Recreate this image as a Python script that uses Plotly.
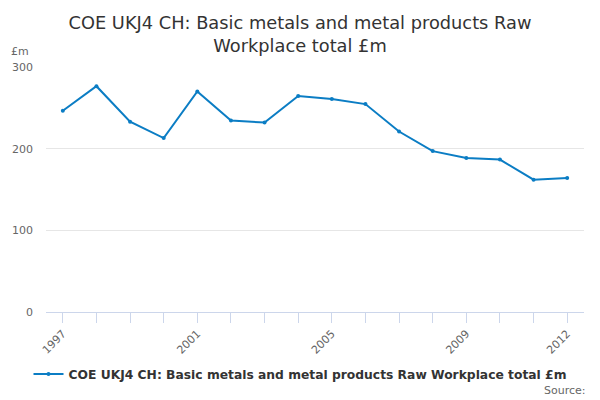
import plotly.graph_objects as go

# values
years = [str(y) for y in range(1997, 2013)]
values = [246.5, 276.5, 233, 213, 270, 234.5, 232, 264.5,
          260.7, 254.6, 221, 197, 188.6, 186.6, 162, 164]
shown_labels = ["1997", "2001", "2005", "2009", "2012"]
series_name = "COE UKJ4 CH: Basic metals and metal products Raw Workplace total £m"

tick_text = [y if y in shown_labels else "" for y in years]

fig = go.Figure()
fig.add_trace(go.Scatter(
    x=years,
    y=values,
    mode="lines+markers",
    name=series_name,
    line=dict(color="#0b7dc4", width=2),
    marker=dict(size=4, color="#0b7dc4"),
))

fig.update_layout(
    width=600,
    height=400,
    margin=dict(l=46, r=16, t=67, b=88),
    paper_bgcolor="white",
    plot_bgcolor="white",
    font=dict(family="DejaVu Sans", color="#333333"),
    title=dict(
        text="COE UKJ4 CH: Basic metals and metal products Raw<br>Workplace total £m",
        x=0.5, xanchor="center",
        y=1 - 29 / 400, yanchor="middle", yref="container",
        font=dict(size=17.8, color="#333333"),
    ),
    showlegend=True,
    legend=dict(
        orientation="h",
        x=0.5, xanchor="center", xref="container",
        y=1 - 374 / 400, yanchor="middle", yref="container",
        itemwidth=30,
        font=dict(size=12.3, color="#333333", weight="bold"),
    ),
    xaxis=dict(
        type="category",
        tickvals=years,
        ticktext=tick_text,
        tickangle=-45,
        ticks="outside",
        ticklen=10,
        tickcolor="#ccd6eb",
        showline=True,
        linecolor="#ccd6eb",
        showgrid=False,
        automargin=False,
        tickfont=dict(size=11, color="#666666"),
        range=[-0.5, 15.5],
    ),
    yaxis=dict(
        range=[0, 300],
        tickvals=[0, 100, 200, 300],
        showgrid=True,
        gridcolor="#e6e6e6",
        zeroline=False,
        showline=False,
        automargin=False,
        ticklabelstandoff=12,
        tickfont=dict(size=11, color="#666666"),
    ),
    annotations=[
        dict(text="£m", xref="paper", yref="paper",
             x=(20 - 46) / 538, y=(312 - 52) / 245,
             xanchor="center", yanchor="middle", showarrow=False,
             font=dict(size=11, color="#666666")),
        dict(text="Source:", xref="paper", yref="paper",
             x=(588 - 46) / 538, y=(312 - 390) / 245,
             xanchor="right", yanchor="middle", showarrow=False,
             font=dict(size=11, color="#666666")),
    ],
)

# the page has a default 8px body margin; drop it so the figure sits at 0,0
fig.write_html("out.html", config={"displayModeBar": False},
               post_script="document.body.style.margin='0';")
